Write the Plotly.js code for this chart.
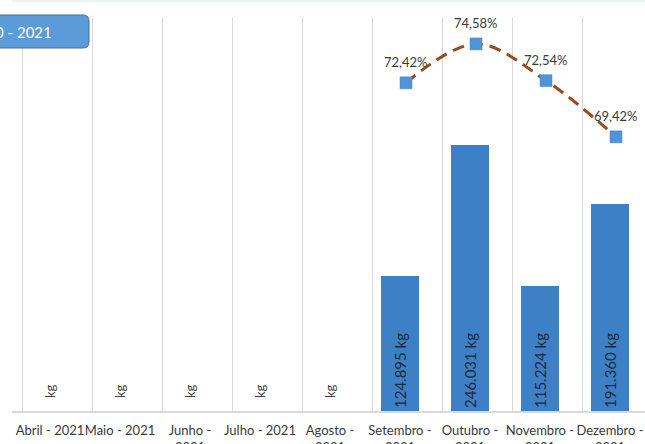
<!DOCTYPE html>
<html>
<head>
<meta charset="utf-8">
<script src="https://cdn.plot.ly/plotly-3.0.1.min.js"></script>
<style>html,body{margin:0;padding:0;background:#fff;}#chart{width:645px;height:444px;}</style>
</head>
<body>
<div id="chart"></div>
<script>
// Data
const months = ['Abril - 2021','Maio - 2021','Junho -<br>2021','Julho - 2021','Agosto -<br>2021','Setembro -<br>2021','Outubro -<br>2021','Novembro -<br>2021','Dezembro -<br>2021'];
const kgValues = [0, 0, 0, 0, 0, 124895, 246031, 115224, 191360];
const pctValues = [null, null, null, null, null, 0.7242, 0.7458, 0.7254, 0.6942];
const boxTitle = '0 - 2021';

const idx = months.map((m, i) => i);
const fmtKg = v => v ? v.toLocaleString('de-DE') + ' kg' : '\u00a0\u00a0\u00a0kg';
const fmtPct = v => (v * 100).toFixed(2).replace('.', ',') + '%';

const W = 645, H = 444, L = 12, R = 0, T = 18, B = 33;
const pw = W - L - R, ph = H - T - B;
const px2x = p => (p - L) / pw;
const px2y = p => (H - B - p) / ph;

const bars = {
  type: 'bar', x: idx, y: kgValues, width: 0.53,
  text: kgValues.map(fmtKg),
  textposition: kgValues.map(v => v ? 'inside' : 'outside'),
  insidetextanchor: 'start', textangle: -90, constraintext: 'none', cliponaxis: false,
  insidetextfont: {family: 'Lato, sans-serif', size: 15, color: '#1c2a3e'},
  outsidetextfont: {family: 'Lato, sans-serif', size: 13, color: '#404040'},
  marker: {color: '#3e80c6', line: {width: 0}},
  hoverinfo: 'none', showlegend: false
};

const line = {
  type: 'scatter', mode: 'lines+markers', x: idx, y: pctValues,
  xaxis: 'x2', yaxis: 'y2',
  line: {color: '#9a4a20', width: 3, dash: '12px,7px', shape: 'spline', smoothing: 1},
  marker: {symbol: 'square', size: 12, color: '#4f94d6', line: {color: '#4a8bcc', width: 0.5}},
  hoverinfo: 'none', showlegend: false, cliponaxis: false
};

const annotations = [];
pctValues.forEach((v, i) => {
  if (v == null) return;
  annotations.push({xref: 'x2', yref: 'y2', x: i, y: v, yshift: 21, showarrow: false,
    text: fmtPct(v), font: {family: 'Lato, sans-serif', size: 13, color: '#3a3a3a'}});
});
annotations.push({xref: 'paper', yref: 'paper', x: px2x(54), y: px2y(32), xanchor: 'right', yanchor: 'middle',
  showarrow: false, text: boxTitle, font: {family: 'Lato, sans-serif', size: 15, color: '#ffffff'}});

// rounded title box (paper coords)
const bx0 = px2x(-70), bx1 = px2x(89), by0 = px2y(48), by1 = px2y(15);
const rx = 6 / pw, ry = 6 / ph;
const boxPath = `M ${bx0},${by0} L ${bx1 - rx},${by0} Q ${bx1},${by0} ${bx1},${by0 + ry} L ${bx1},${by1 - ry} Q ${bx1},${by1} ${bx1 - rx},${by1} L ${bx0},${by1} Z`;

const r0 = -38 / 70, r1 = r0 + pw / 70;
const shift = 6 / 70;

const layout = {
  width: W, height: H,
  margin: {l: L, r: R, t: T, b: B, pad: 0},
  paper_bgcolor: '#ffffff', plot_bgcolor: '#ffffff',
  separators: ',.',
  showlegend: false,
  bargap: 0,
  xaxis: {
    range: [r0, r1], tickmode: 'array', tickvals: idx, ticktext: months, tickangle: 0,
    showgrid: false, zeroline: false, showline: true, linecolor: '#d9d9d9', linewidth: 1.5,
    ticks: '', ticklabelstandoff: 7, tickfont: {family: 'Lato, sans-serif', size: 13, color: '#3a3a3a'},
    minor: {tickmode: 'linear', tick0: -0.4, dtick: 1, showgrid: true, gridcolor: '#d9d9d9', gridwidth: 1, ticks: ''},
    fixedrange: true
  },
  xaxis2: {overlaying: 'x', range: [r0 - shift, r1 - shift], visible: false, fixedrange: true},
  yaxis: {range: [0, 363500], visible: false, fixedrange: true},
  yaxis2: {overlaying: 'y', range: [0.5419, 0.7602], visible: false, fixedrange: true},
  annotations: annotations,
  shapes: [
    {type: 'path', xref: 'paper', yref: 'paper', path: boxPath, fillcolor: '#5b9bd8', line: {color: '#3f72a8', width: 1}, layer: 'above'},
    {type: 'line', xref: 'paper', yref: 'paper', x0: 0, x1: 1, y0: px2y(1), y1: px2y(1), line: {color: '#eef1f5', width: 2}}
  ]
};

Plotly.newPlot('chart', [bars, line], layout, {displayModeBar: false, staticPlot: true});
</script>
</body>
</html>
